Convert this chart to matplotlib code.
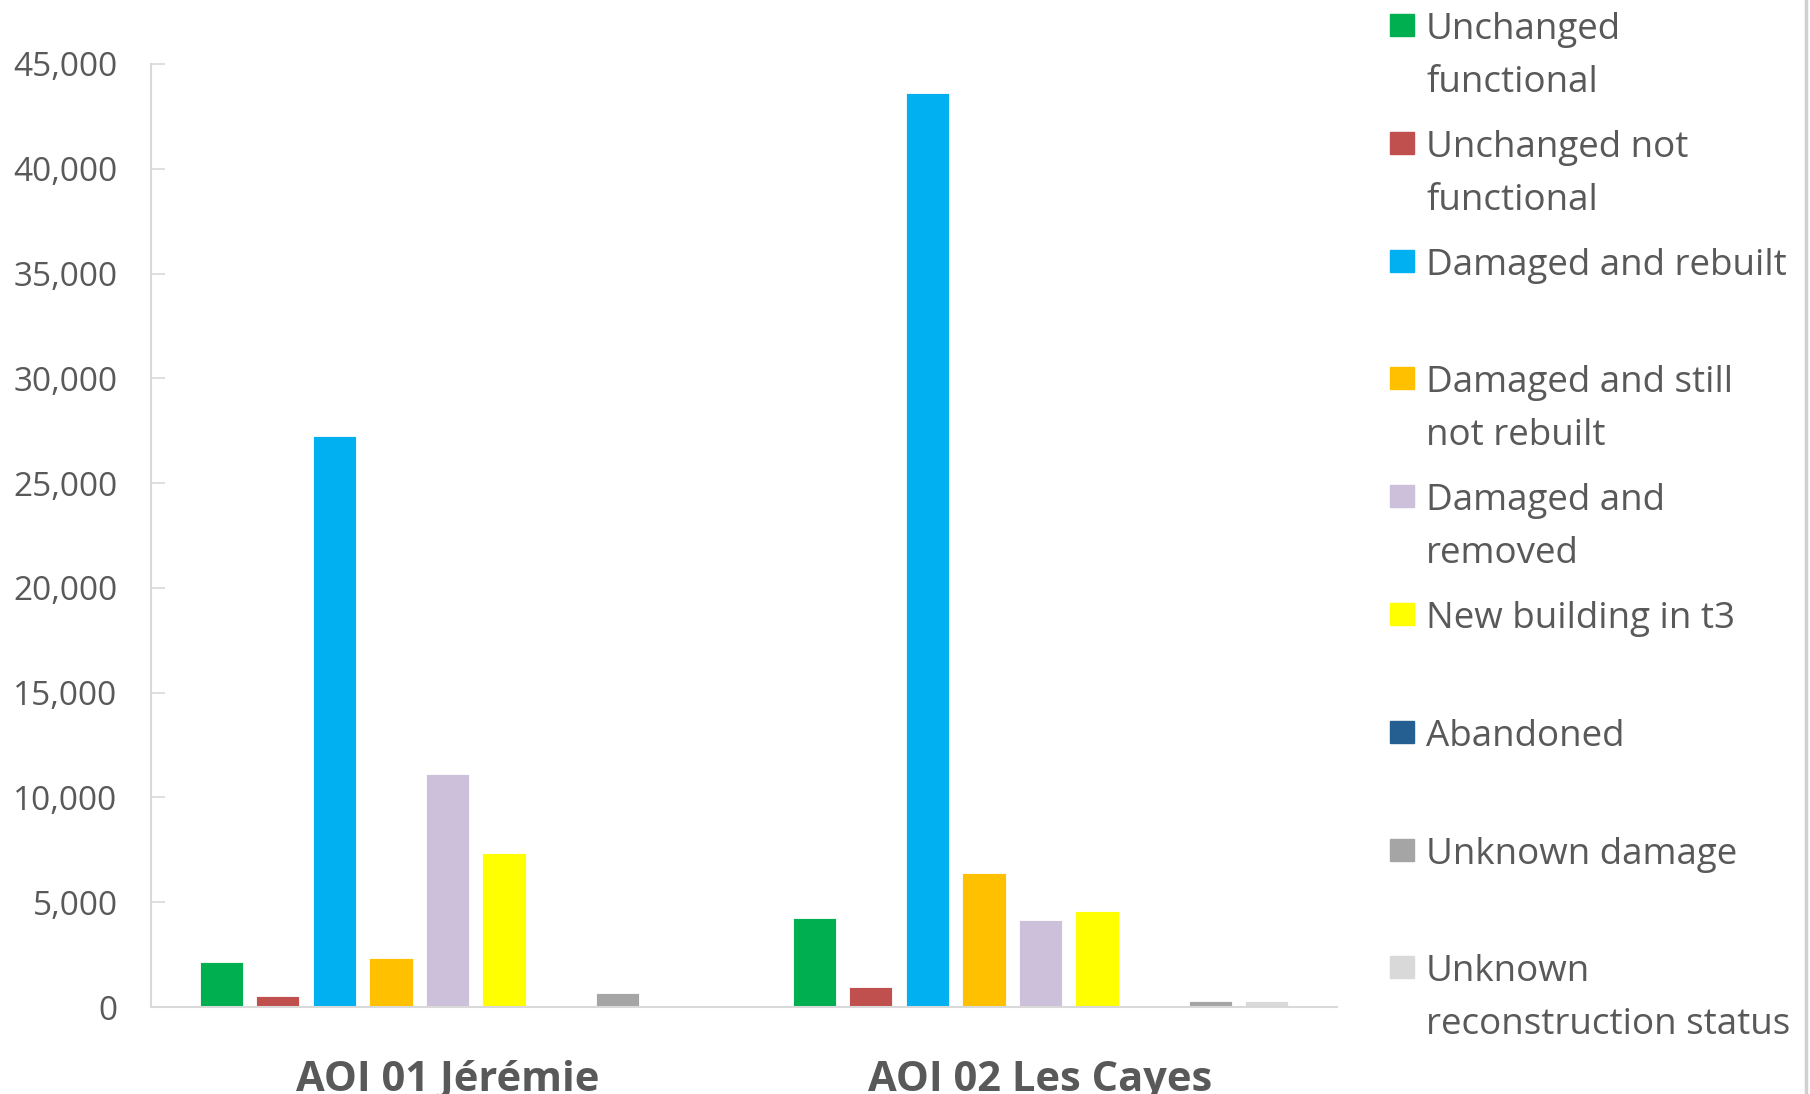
import numpy as np
import matplotlib
matplotlib.use("Agg")
import matplotlib.pyplot as plt
from matplotlib.patches import Rectangle
from matplotlib.lines import Line2D

plt.rcParams["font.family"] = ["Open Sans", "DejaVu Sans"]

categories = ["AOI 01 Jérémie", "AOI 02 Les Cayes"]
series_labels = [
    "Unchanged\nfunctional",
    "Unchanged not\nfunctional",
    "Damaged and rebuilt",
    "Damaged and still\nnot rebuilt",
    "Damaged and\nremoved",
    "New building in t3",
    "Abandoned",
    "Unknown damage",
    "Unknown\nreconstruction status",
]
unchanged_functional = [2150, 4230]
unchanged_not_functional = [530, 950]
damaged_rebuilt = [27250, 43600]
damaged_not_rebuilt = [2330, 6400]
damaged_removed = [11100, 4140]
new_building_t3 = [7330, 4600]
abandoned = [0, 0]
unknown_damage = [650, 290]
unknown_reconstruction = [0, 290]

series_values = [
    unchanged_functional, unchanged_not_functional, damaged_rebuilt,
    damaged_not_rebuilt, damaged_removed, new_building_t3, abandoned,
    unknown_damage, unknown_reconstruction,
]
colors = ["#00B050", "#C0504D", "#00B0F0", "#FFC000", "#CCC0DA",
          "#FFFF00", "#255E91", "#A5A5A5", "#D9D9D9"]

text_col = "#595959"
axis_col = "#D9D9D9"

W, H = 1810, 1094
fig = plt.figure(figsize=(W / 100, H / 100), dpi=100)
ax = fig.add_axes([151 / W, (H - 1007) / H, (1337 - 151) / W, (1007 - 64) / H])

x = np.arange(len(categories))
pitch = 0.0954
width = 0.073
n = len(series_values)
for i, (vals, c) in enumerate(zip(series_values, colors)):
    ax.bar(x + (i - (n - 1) / 2) * pitch, vals, width=width, color=c,
           edgecolor="white", linewidth=0.6)

ax.set_xlim(-0.5, 1.5)
ax.set_ylim(0, 45000)
ax.set_yticks(np.arange(0, 45001, 5000))
ax.yaxis.set_major_formatter(matplotlib.ticker.FuncFormatter(lambda v, p: f"{int(v):,}"))
ax.set_xticks(x)
ax.set_xticklabels(categories, fontsize=30, fontweight="bold", color=text_col)
ax.tick_params(axis="x", length=0, pad=38)
ax.tick_params(axis="y", direction="in", length=10, width=1.2, color=axis_col,
               labelsize=24, labelcolor=text_col, pad=24)

for s in ["top", "right"]:
    ax.spines[s].set_visible(False)
for s in ["left", "bottom"]:
    ax.spines[s].set_color(axis_col)
    ax.spines[s].set_linewidth(1.5)

# legend, drawn by hand to keep Excel's evenly spaced slots
slot = 117.8
for i, (lab, c) in enumerate(zip(series_labels, colors)):
    ytop = 14 + i * slot
    fig.patches.append(Rectangle((1390 / W, 1 - (ytop + 22) / H), 24 / W, 22 / H,
                                 transform=fig.transFigure, color=c))
    fig.text(1426 / W, 1 - (ytop - 2) / H, lab, fontsize=26.5, color=text_col,
             va="top", ha="left", linespacing=1.62)

fig.add_artist(Line2D([1806 / W, 1806 / W], [0, 1], color="#D0D0D0", lw=2.5,
                      transform=fig.transFigure))

fig.savefig("out.png", dpi=100)
